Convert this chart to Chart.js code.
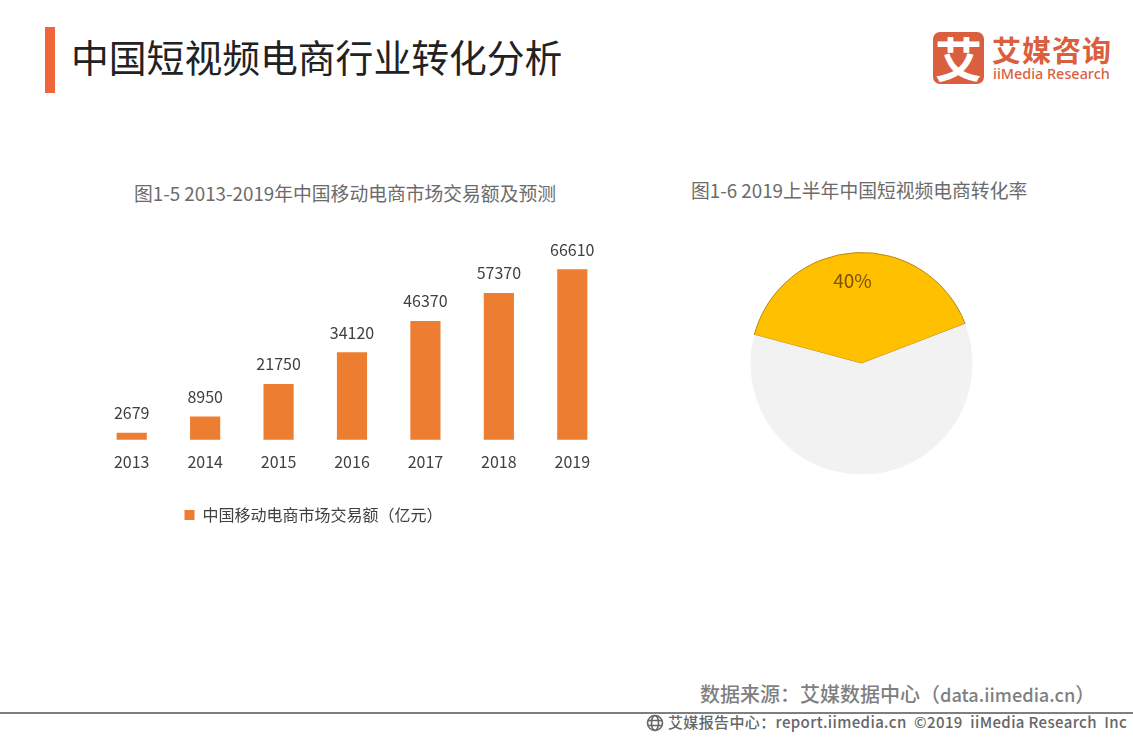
<!DOCTYPE html>
<html lang="zh"><head><meta charset="utf-8">
<script src="https://cdn.jsdelivr.net/npm/chart.js@4/dist/chart.umd.min.js"></script>
<style>
html,body{margin:0;padding:0;background:#fff;overflow:hidden}
body{width:1133px;height:737px;position:relative;font-family:"Noto Sans CJK SC","Noto Sans",sans-serif}
.t{position:absolute;white-space:nowrap;line-height:1}
canvas{position:absolute}
</style></head><body>
<div style="position:absolute;left:45px;top:27px;width:10px;height:66px;background:#f1653a"></div>
<div class="t" style="left:71px;top:37px;font-size:37.8px;color:#222">中国短视频电商行业转化分析</div>
<div style="position:absolute;left:933px;top:32px;width:51px;height:52px;border-radius:7px;background:#d95f3f;color:#fff;font-size:47px;line-height:50px;text-align:center;font-weight:700">艾</div>
<div class="t" style="left:992px;top:35px;font-size:29px;color:#d95f3f;font-weight:700;letter-spacing:1px">艾媒咨询</div>
<div class="t" style="left:993px;top:67px;font-size:14.4px;color:#d95f3f;font-family:'Noto Sans';font-weight:500">iiMedia Research</div>
<div class="t" style="left:134px;top:184px;font-size:18.8px;color:#6b6b6b">图1-5 2013-2019年中国移动电商市场交易额及预测</div>
<div class="t" style="left:691px;top:181px;font-size:18.8px;color:#6b6b6b">图1-6 2019上半年中国短视频电商转化率</div>
<canvas id="bar" style="left:0;top:231px"></canvas>
<canvas id="pie" style="left:750px;top:252px"></canvas>
<div class="t" style="left:700px;top:684px;font-size:20px;color:#7f7f7f;font-weight:500">数据来源：艾媒数据中心（<span style="font-size:18.2px">data.iimedia.cn</span>）</div>
<div style="position:absolute;left:0;top:712px;width:1133px;height:2px;background:#7f7f7f"></div>
<svg style="position:absolute;left:646px;top:714px" width="19" height="19" viewBox="0 0 19 19" fill="none" stroke="#666" stroke-width="1.6"><circle cx="9" cy="9" r="7.5"/><ellipse cx="9" cy="9" rx="3.5" ry="7.5"/><path d="M2 6.5h14M2 11.5h14"/></svg>
<div class="t" style="left:668px;top:714px;font-size:15px;color:#666;font-weight:500;letter-spacing:.37px">艾媒报告中心：report.iimedia.cn&nbsp; ©2019&nbsp; iiMedia Research&nbsp; Inc</div>
<script>
const categories=["2013","2014","2015","2016","2017","2018","2019"];
const marketValues=[2679,8950,21750,34120,46370,57370,66610];
const seriesName="中国移动电商市场交易额（亿元）";
const pieLabels=["转化率","其他"];
const pieValues=[40,60];
const font="'Noto Sans CJK SC','Noto Sans',sans-serif";
Chart.defaults.animation=false;
Chart.defaults.responsive=false;
document.getElementById('bar').width=620;document.getElementById('bar').height=307;
document.getElementById('pie').width=223;document.getElementById('pie').height=223;
const barLabels={id:'barLabels',afterDatasetsDraw(c){const x=c.ctx,m=c.getDatasetMeta(0);x.save();x.font="16px "+font;x.fillStyle="#404040";x.textAlign="center";x.textBaseline="alphabetic";
 m.data.forEach((b,i)=>x.fillText(String(marketValues[i]),b.x,b.y-14));x.restore();}};
new Chart(document.getElementById('bar'),{type:'bar',plugins:[barLabels],
 data:{labels:categories,datasets:[{label:seriesName,data:marketValues,backgroundColor:"#ed7d31",barThickness:29.5}]},
 options:{layout:{padding:{left:18,right:11,top:30,bottom:5}},
  scales:{x:{grid:{display:false},border:{display:false},ticks:{color:"#404040",font:{size:16,family:font},padding:5,maxRotation:0}},
   y:{display:true,min:0,max:70000,grid:{display:false},border:{display:false},ticks:{display:false},afterFit(a){a.width=77;}}},
  plugins:{tooltip:{enabled:false},legend:{position:'bottom',labels:{boxWidth:10,boxHeight:10,color:"#404040",font:{size:16,family:font},padding:30}}}}});
const pieLabel={id:'pieLabel',afterDatasetsDraw(c){const x=c.ctx,a=c.getDatasetMeta(0).data[0];x.save();x.font="19px "+font;x.fillStyle="#7a5200";x.textAlign="center";x.textBaseline="middle";
 x.fillText(pieValues[0]+"%",a.x-9,a.y-83);x.restore();}};
new Chart(document.getElementById('pie'),{type:'pie',plugins:[pieLabel],
 data:{labels:pieLabels,datasets:[{data:pieValues,backgroundColor:["#ffc000","#f2f2f2"],borderColor:["#b38a10","#f2f2f2"],borderWidth:[1,0]}]},
 options:{rotation:-75,layout:{padding:0},plugins:{legend:{display:false},tooltip:{enabled:false}}}});
</script>
</body></html>
